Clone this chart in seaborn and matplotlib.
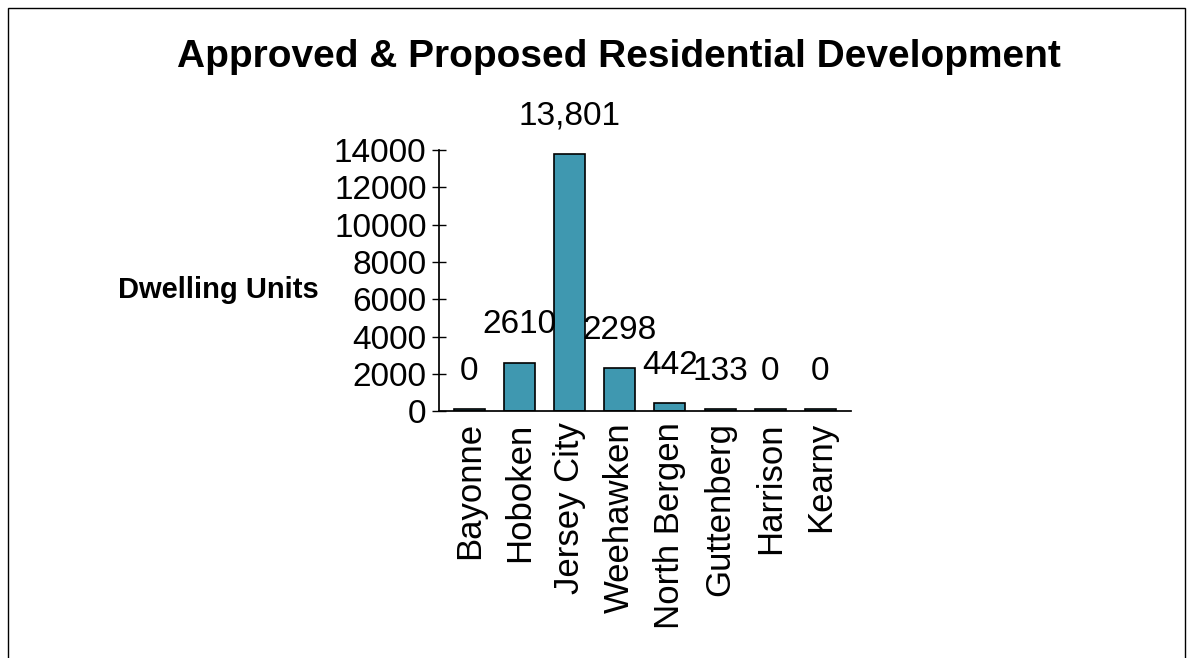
import matplotlib
matplotlib.use("Agg")
import matplotlib.pyplot as plt
import seaborn as sns
import pandas as pd
from matplotlib.patches import Rectangle

categories = ["Bayonne", "Hoboken", "Jersey City", "Weehawken", "North Bergen",
              "Guttenberg", "Harrison", "Kearny"]
units = [0, 2610, 13801, 2298, 442, 133, 0, 0]
value_labels = ["0", "2610", "13,801", "2298", "442", "133", "0", "0"]
y_ticks = [0, 2000, 4000, 6000, 8000, 10000, 12000, 14000]

sns.set_theme(style="white")
plt.rcParams['font.family'] = ['Liberation Sans', 'DejaVu Sans']
for k in ["text.color", "axes.labelcolor", "xtick.color", "ytick.color"]:
    plt.rcParams[k] = "black"

df = pd.DataFrame({"city": categories, "units": units})

fig = plt.figure(figsize=(11.93, 6.58), dpi=100)
fig.patch.set_facecolor("white")
fig.patches.append(Rectangle((0.007, -0.01), 0.986, 0.998, transform=fig.transFigure,
                             fill=False, edgecolor="black", linewidth=1.0))

ax = fig.add_axes([0.368, 0.375, 0.345, 0.397])
sns.barplot(data=df, x="city", y="units", color="#3F98B0", edgecolor="black",
            linewidth=1.2, width=0.62, saturation=1, ax=ax)
for p in ax.patches:
    if p.get_height() == 0:
        p.set_height(120)

ax.bar_label(ax.containers[0], labels=value_labels, padding=16, fontsize=24,
             color="black")
ax.set_ylim(0, 14000)
ax.set_yticks(y_ticks)
ax.set_yticklabels([str(t) for t in y_ticks], fontsize=24)
ax.set_xticks(range(len(categories)))
ax.set_xticklabels(categories, rotation=90, fontsize=25)
ax.set_xlabel("")
ax.set_ylabel("")
for s in ["top", "right"]:
    ax.spines[s].set_visible(False)
ax.spines["left"].set_color("black")
ax.spines["bottom"].set_color("black")
ax.tick_params(axis="y", direction="inout", length=10, width=1, left=True, pad=4)
ax.tick_params(axis="x", length=0, pad=8)
ax.set_xlim(-0.6, 7.6)

fig.text(0.519, 0.913, "Approved & Proposed Residential Development",
         ha="center", va="center", fontsize=28, fontweight="bold")
fig.text(0.183, 0.559, "Dwelling Units", ha="center", va="center",
         fontsize=21, fontweight="bold")

fig.savefig("out.png", dpi=100)
